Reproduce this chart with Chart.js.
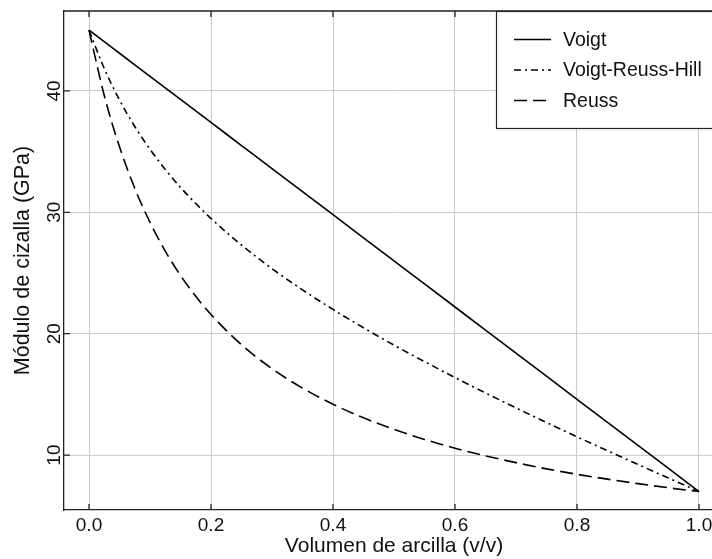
<!DOCTYPE html>
<html><head><meta charset="utf-8">
<script src="https://cdn.jsdelivr.net/npm/chart.js@4/dist/chart.umd.min.js"></script>
<style>html,body{margin:0;padding:0;background:#fff;overflow:hidden}#wrap{width:712px;height:559px;overflow:hidden}</style>
</head><body><div id="wrap"><canvas id="c" width="724" height="559"></canvas></div>
<script>
const fractions = [0,0.025,0.05,0.075,0.1,0.125,0.15,0.175,0.2,0.25,0.3,0.35,0.4,0.45,0.5,0.55,0.6,0.65,0.7,0.75,0.8,0.85,0.9,0.95,1.0];
const voigt = [45,44.05,43.1,42.15,41.2,40.25,39.3,38.35,37.4,35.5,33.6,31.7,29.8,27.9,26.0,24.1,22.2,20.3,18.4,16.5,14.6,12.7,10.8,8.9,7.0];
const vrh = [45,41.84,39.25,37.07,35.19,33.53,32.05,30.72,29.49,27.30,25.36,23.61,22.0,20.49,19.06,17.70,16.39,15.12,13.89,12.69,11.51,10.36,9.23,8.11,7.0];
const reuss = [45,39.62,35.39,31.98,29.17,26.81,24.80,23.08,21.58,19.09,17.12,15.52,14.19,13.07,12.12,11.29,10.57,9.94,9.38,8.87,8.42,8.02,7.65,7.31,7.0];
const seriesNames = ['Voigt','Voigt-Reuss-Hill','Reuss'];
const xTicks = [0,0.2,0.4,0.6,0.8,1.0];
const yTicks = [10,20,30,40];
const xTitle = 'Volumen de arcilla (v/v)';
const yTitle = 'Módulo de cizalla (GPa)';

const FONT = '"Liberation Sans", Arial, Helvetica, sans-serif';
const pts = arr => fractions.map((f,i)=>({x:f,y:arr[i]}));
const dashes = [[], [7,4,2,4], [13,6]];

const frame = {
  id:'frame',
  afterDraw(chart){
    const {ctx, chartArea:a, scales:{x,y}} = chart;
    ctx.save();
    ctx.strokeStyle = '#222'; ctx.lineWidth = 1.3;
    ctx.beginPath();
    ctx.moveTo(a.left, a.top); ctx.lineTo(a.right, a.top); ctx.lineTo(a.right, a.bottom);
    xTicks.forEach(v=>{const p=x.getPixelForValue(v);
      ctx.moveTo(p,a.top); ctx.lineTo(p,a.top+6);
      ctx.moveTo(p,a.bottom); ctx.lineTo(p,a.bottom-6);});
    yTicks.forEach(v=>{const p=y.getPixelForValue(v);
      ctx.moveTo(a.left,p); ctx.lineTo(a.left+6,p);});
    ctx.stroke();
    // rotated y tick labels
    ctx.font = '19px '+FONT; ctx.fillStyle='#111';
    ctx.textAlign='center'; ctx.textBaseline='middle';
    yTicks.forEach(v=>{const p=y.getPixelForValue(v);
      ctx.save(); ctx.translate(a.left-9,p); ctx.rotate(-Math.PI/2);
      ctx.fillText(String(v),0,0); ctx.restore();});
    // legend
    const lx=496, ly=a.top, lw=a.right-496-6, lh=117;
    ctx.fillStyle='#fff'; ctx.fillRect(lx,ly,lw,lh);
    ctx.lineWidth=1.2; ctx.strokeStyle='#222';
    ctx.strokeRect(lx+0.5,ly+0.5,lw,lh);
    ctx.font = '19.5px '+FONT; ctx.fillStyle='#111'; ctx.textBaseline='middle'; ctx.textAlign='left';
    chart.data.datasets.forEach((ds,i)=>{
      const yy = ly + 28.5 + i*30.5;
      ctx.setLineDash(ds.borderDash||[]);
      ctx.lineWidth=1.6; ctx.strokeStyle='#000';
      ctx.beginPath(); ctx.moveTo(514,yy); ctx.lineTo(551,yy); ctx.stroke();
      ctx.setLineDash([]);
      ctx.fillText(ds.label, 563, yy+1);
    });
    ctx.restore();
  }
};

new Chart(document.getElementById('c'), {
  type:'line',
  data:{datasets:[
    {label:seriesNames[0], data:pts(voigt), borderDash:dashes[0]},
    {label:seriesNames[1], data:pts(vrh), borderDash:dashes[1]},
    {label:seriesNames[2], data:pts(reuss), borderDash:dashes[2]}
  ].map(d=>Object.assign(d,{borderColor:'#000',borderWidth:1.6,pointRadius:0,fill:false,cubicInterpolationMode:'monotone'}))},
  options:{
    responsive:false, animation:false,
    layout:{padding:{top:11,right:0,left:0,bottom:0}},
    plugins:{legend:{display:false},tooltip:{enabled:false}},
    scales:{
      x:{type:'linear', min:-0.041, max:1.041,
        afterBuildTicks:s=>{s.ticks=xTicks.map(v=>({value:v}));},
        afterFit:s=>{s.height=49;s.paddingLeft=0;s.paddingRight=0;s.paddingTop=0;s.paddingBottom=0;},
        grid:{color:'#cccccc',lineWidth:1,drawTicks:false},
        border:{display:true,color:'#222',width:1.3},
        ticks:{padding:4,color:'#111',font:{family:FONT,size:19},callback:v=>Number(v).toFixed(1),maxRotation:0,autoSkip:false},
        title:{display:true,text:xTitle,color:'#111',font:{family:FONT,size:21},padding:{top:0,bottom:0}}
      },
      y:{type:'linear', min:5.48, max:46.58,
        afterBuildTicks:s=>{s.ticks=yTicks.map(v=>({value:v}));},
        afterFit:s=>{s.width=64;s.paddingLeft=0;s.paddingRight=0;s.paddingTop=0;s.paddingBottom=0;},
        grid:{color:'#cccccc',lineWidth:1,drawTicks:false},
        border:{display:true,color:'#222',width:1.3},
        ticks:{display:false},
        title:{display:true,text:yTitle,color:'#111',font:{family:FONT,size:21.5},padding:{top:10,bottom:0}}
      }
    }
  },
  plugins:[frame]
});
</script></body></html>
